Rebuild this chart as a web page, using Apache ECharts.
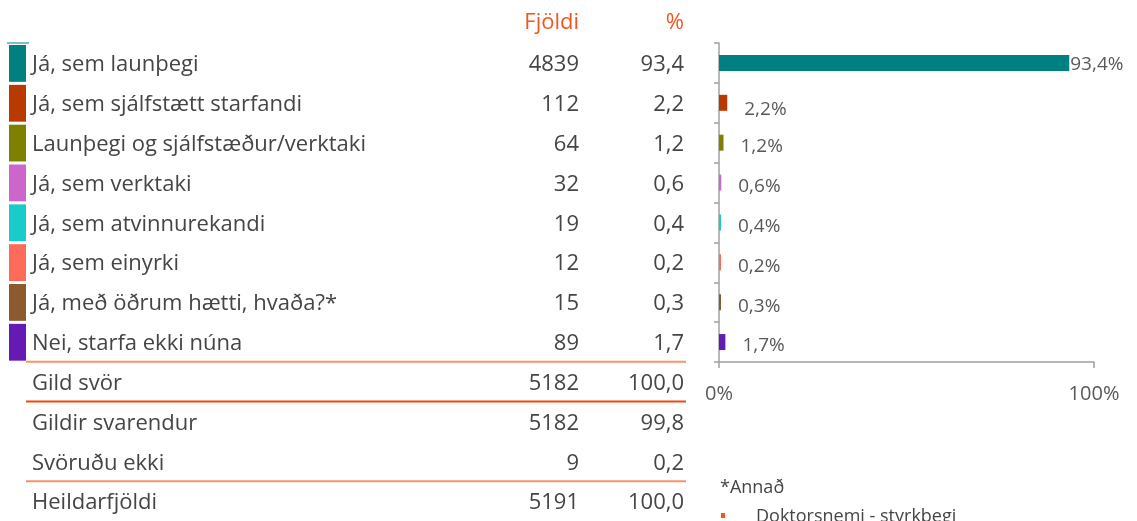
<!DOCTYPE html>
<html>
<head>
<meta charset="utf-8">
<script src="https://cdn.jsdelivr.net/npm/echarts@6/dist/echarts.min.js"></script>
<style>
html,body{margin:0;padding:0;background:#fff;}
#chart{width:1137px;height:521px;}
</style>
</head>
<body>
<div id="chart"></div>
<script>
// ---- data ----
const categories = ['Já, sem launþegi', 'Já, sem sjálfstætt starfandi', 'Launþegi og sjálfstæður/verktaki', 'Já, sem verktaki', 'Já, sem atvinnurekandi', 'Já, sem einyrki', 'Já, með öðrum hætti, hvaða?*', 'Nei, starfa ekki núna'];
const counts = [4839, 112, 64, 32, 19, 12, 15, 89];
const percents = [93.4, 2.2, 1.2, 0.6, 0.4, 0.2, 0.3, 1.7];
const summaryLabels = ['Gild svör', 'Gildir svarendur', 'Svöruðu ekki', 'Heildarfjöldi'];
const summaryCounts = [5182, 5182, 9, 5191];
const summaryPercents = [100.0, 99.8, 0.2, 100.0];
const headers = ['Fjöldi', '%'];
const xTicks = [0, 100];
const footnoteTitle = '*Annað';
const footnoteItems = ['Doktorsnemi - styrkþegi'];

// ---- styles ----
const colors = ['#008080', '#B83A00', '#808000', '#CC66CC', '#1ACCC8', '#FF6B5B', '#8C5A2E', '#651AB4'];
const labelOffsetY = [2, 7, 4, 4, 4, 4, 4, 4];
const textColor = '#454545';
const accent = '#F0561E';
const lightLine = '#F7946A';
const darkLine = '#F04A0A';
const FONT = '"Open Sans", "DejaVu Sans", sans-serif';
const fmt = v => v.toFixed(1).replace('.', ',');

const rowLabels = categories.concat(summaryLabels);
const rowCounts = counts.concat(summaryCounts);
const rowPcts = percents.concat(summaryPercents);
const lineBelow = {7: lightLine, 8: darkLine, 10: lightLine};

function renderRow(params, api) {
  const i = params.dataIndex;
  const row = api.value(1);
  const yc = api.coord([0, row])[1];
  const band = api.size([0, 1])[1];
  const top = yc - band / 2, bottom = yc + band / 2;
  const X = v => api.coord([v, row])[0];
  const ty = yc + 2;
  const ch = [];
  if (i < categories.length) {
    ch.push({type: 'rect', shape: {x: X(9), y: top + 2, width: 17, height: band - 3}, style: {fill: colors[i]}});
    if (i === 0) ch.push({type: 'line', shape: {x1: X(7), y1: top, x2: X(29), y2: top}, style: {stroke: colors[0], lineWidth: 1}});
  }
  ch.push({type: 'text', style: {text: rowLabels[i], x: X(32), y: ty, align: 'left', verticalAlign: 'middle', fill: textColor, fontSize: 22, fontFamily: FONT}});
  ch.push({type: 'text', style: {text: String(rowCounts[i]), x: X(579), y: ty, align: 'right', verticalAlign: 'middle', fill: textColor, fontSize: 22, fontFamily: FONT}});
  ch.push({type: 'text', style: {text: fmt(rowPcts[i]), x: X(684), y: ty, align: 'right', verticalAlign: 'middle', fill: textColor, fontSize: 22, fontFamily: FONT}});
  if (lineBelow[i]) {
    ch.push({type: 'line', shape: {x1: X(26), y1: bottom, x2: X(686), y2: bottom}, style: {stroke: lineBelow[i], lineWidth: 2}});
  }
  return {type: 'group', children: ch};
}

const chart = echarts.init(document.getElementById('chart'), null, {renderer: 'canvas'});
chart.setOption({
  animation: false,
  backgroundColor: '#ffffff',
  textStyle: {fontFamily: FONT},
  grid: [
    {left: 0, top: 43, width: 700, height: 480},
    {left: 719, top: 43, width: 375, height: 319}
  ],
  xAxis: [
    {gridIndex: 0, type: 'value', min: 0, max: 700, show: false},
    {gridIndex: 1, type: 'value', min: 0, max: 100, interval: 100,
     axisLine: {show: true, lineStyle: {color: '#a0a0a0', width: 1.5}},
     axisTick: {show: true, length: 6, lineStyle: {color: '#a0a0a0', width: 1.5}},
     splitLine: {show: false},
     axisLabel: {margin: 22, color: '#595959', fontSize: 20, fontFamily: FONT, formatter: v => xTicks.includes(v) ? v + '%' : ''}}
  ],
  yAxis: [
    {gridIndex: 0, type: 'category', data: rowLabels, inverse: true, show: false},
    {gridIndex: 1, type: 'category', data: categories, inverse: true,
     axisLine: {show: true, lineStyle: {color: '#a0a0a0', width: 1.5}},
     axisTick: {show: true, length: 5, lineStyle: {color: '#a0a0a0', width: 1.5}},
     axisLabel: {show: false}}
  ],
  graphic: [
    {type: 'text', right: 1137 - 579, top: 12, style: {text: headers[0], fill: accent, fontSize: 22, fontFamily: FONT}},
    {type: 'text', right: 1137 - 684, top: 12, style: {text: headers[1], fill: accent, fontSize: 22, fontFamily: FONT}},
    {type: 'text', left: 720, top: 479, style: {text: footnoteTitle, fill: textColor, fontSize: 18, fontFamily: FONT}},
    {type: 'rect', left: 721, top: 513, shape: {width: 4, height: 5}, style: {fill: accent}},
    {type: 'text', left: 756, top: 508, style: {text: footnoteItems[0], fill: textColor, fontSize: 18, fontFamily: FONT}}
  ],
  series: [
    {
      type: 'custom',
      xAxisIndex: 0, yAxisIndex: 0,
      clip: false,
      renderItem: renderRow,
      encode: {x: 0, y: 1},
      data: rowLabels.map((_, i) => [0, i])
    },
    {
      type: 'bar',
      xAxisIndex: 1, yAxisIndex: 1,
      barWidth: 16,
      barMinHeight: 2,
      data: percents.map((v, i) => ({
        value: v,
        itemStyle: {color: colors[i]},
        label: {distance: v > 50 ? 1 : 17, offset: [0, labelOffsetY[i]]}
      })),
      label: {show: true, position: 'right', color: '#595959', fontSize: 19, fontFamily: FONT,
              formatter: p => fmt(p.value) + '%'}
    }
  ]
});
</script>
</body>
</html>
